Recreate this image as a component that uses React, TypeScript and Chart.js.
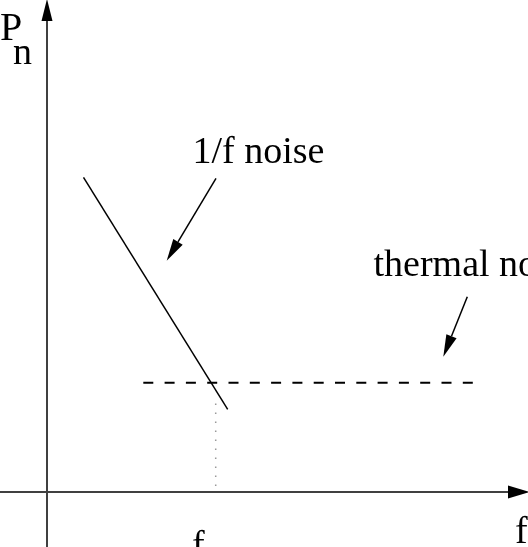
import React, { useEffect, useRef } from "react";
import { Chart, registerables } from "chart.js";

Chart.register(...registerables);

// Axis ranges (arbitrary frequency / power units, origin at the axis crossing)
const FREQ_MIN = -47;
const FREQ_MAX = 481;
const POWER_MIN = -55;
const POWER_MAX = 492;

// 1/f noise line
const flickerFreq = [36.5, 180.7];
const flickerPower = [314.7, 82.7];

// thermal noise floor (dashed)
const thermalFreq = [96.3, 429];
const thermalPower = [109.3, 109.3];

// corner frequency marker (dotted)
const cornerFreq = [168.7, 168.7];
const cornerPower = [6, 91];

// axes (drawn as arrows)
const axisArrowFrom = [
  [-47, 0],
  [0, -55],
];
const axisArrowTo = [
  [483, 0],
  [0, 493],
];

// annotation arrows
const noteArrowFrom = [
  [169, 313.7],
  [420.3, 195.3],
];
const noteArrowTo = [
  [119.7, 231.3],
  [396.3, 135.3],
];

// text labels
const labelTexts = ["P", "n", "1/f noise", "thermal noise", "f", "f", "c"];
const labelFreq = [-47, -34, 145.5, 326.5, 468, 145, 160];
const labelPower = [452, 428, 329, 216, -51, -65, -78];
const labelSizes = [40, 38, 38, 38, 38, 38, 27];

const toPoints = (xs: number[], ys: number[]) => xs.map((x, i) => ({ x, y: ys[i] }));

const FONT_FAMILY = '"Liberation Serif", "Times New Roman", serif';

function drawArrow(
  ctx: CanvasRenderingContext2D,
  x1: number,
  y1: number,
  x2: number,
  y2: number,
  lineColor: string,
  lineWidth: number,
  headLen: number,
  headHalf: number
) {
  const ang = Math.atan2(y2 - y1, x2 - x1);
  const bx = x2 - headLen * Math.cos(ang);
  const by = y2 - headLen * Math.sin(ang);
  ctx.save();
  ctx.strokeStyle = lineColor;
  ctx.lineWidth = lineWidth;
  ctx.beginPath();
  ctx.moveTo(x1, y1);
  ctx.lineTo(bx, by);
  ctx.stroke();
  ctx.fillStyle = "#000";
  ctx.beginPath();
  ctx.moveTo(x2, y2);
  ctx.lineTo(bx + headHalf * Math.sin(ang), by - headHalf * Math.cos(ang));
  ctx.lineTo(bx - headHalf * Math.sin(ang), by + headHalf * Math.cos(ang));
  ctx.closePath();
  ctx.fill();
  ctx.restore();
}

const annotationPlugin = {
  id: "diagramAnnotations",
  afterDatasetsDraw(chart: any) {
    const ctx: CanvasRenderingContext2D = chart.ctx;
    const xs = chart.scales.x;
    const ys = chart.scales.y;
    const px = (v: number) => xs.getPixelForValue(v);
    const py = (v: number) => ys.getPixelForValue(v);

    axisArrowFrom.forEach((f, i) => {
      const t = axisArrowTo[i];
      drawArrow(ctx, px(f[0]), py(f[1]), px(t[0]), py(t[1]), "#404040", 2, 22, i === 0 ? 6.5 : 5.5);
    });

    noteArrowFrom.forEach((f, i) => {
      const t = noteArrowTo[i];
      drawArrow(ctx, px(f[0]), py(f[1]), px(t[0]), py(t[1]), "#000", 1.5, 22, 5.5);
    });

    ctx.save();
    ctx.fillStyle = "#000";
    ctx.textAlign = "left";
    ctx.textBaseline = "alphabetic";
    labelTexts.forEach((txt, i) => {
      ctx.font = `${labelSizes[i]}px ${FONT_FAMILY}`;
      ctx.fillText(txt, px(labelFreq[i]), py(labelPower[i]));
    });
    ctx.restore();
  },
};

export default function App() {
  const canvasRef = useRef<HTMLCanvasElement | null>(null);

  useEffect(() => {
    const canvas = canvasRef.current;
    if (!canvas) return;
    const chart = new Chart(canvas, {
      type: "scatter",
      data: {
        datasets: [
          {
            label: "1/f noise",
            data: toPoints(flickerFreq, flickerPower),
            showLine: true,
            borderColor: "#000",
            borderWidth: 1.5,
            pointRadius: 0,
            tension: 0,
          },
          {
            label: "thermal noise",
            data: toPoints(thermalFreq, thermalPower),
            showLine: true,
            borderColor: "#000",
            borderWidth: 2,
            borderDash: [10, 11.3],
            borderCapStyle: "butt",
            pointRadius: 0,
            tension: 0,
          },
          {
            label: "corner",
            data: toPoints(cornerFreq, cornerPower),
            showLine: true,
            borderColor: "#999",
            borderWidth: 1.5,
            borderDash: [1.5, 7.5],
            borderCapStyle: "butt",
            pointRadius: 0,
            tension: 0,
          },
        ],
      },
      options: {
        responsive: false,
        animation: false,
        events: [],
        layout: { padding: 0 },
        plugins: {
          legend: { display: false },
          tooltip: { enabled: false },
          title: { display: false },
        },
        scales: {
          x: { type: "linear", min: FREQ_MIN, max: FREQ_MAX, display: false },
          y: { type: "linear", min: POWER_MIN, max: POWER_MAX, display: false },
        },
      },
      plugins: [annotationPlugin],
    } as any);
    return () => chart.destroy();
  }, []);

  return (
    <div style={{ position: "fixed", left: 0, top: 0, width: 528, height: 547, background: "#fff" }}>
      <canvas ref={canvasRef} width={528} height={547} style={{ display: "block" }} />
    </div>
  );
}
